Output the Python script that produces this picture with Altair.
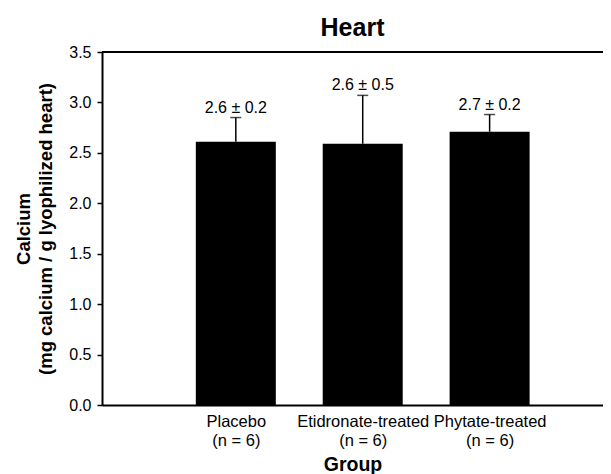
import altair as alt
import pandas as pd

groups = ["Placebo", "Etidronate-treated", "Phytate-treated"]
n_labels = ["(n = 6)", "(n = 6)", "(n = 6)"]
positions = [1, 2, 3]
means = [2.61, 2.59, 2.71]
errors = [0.24, 0.48, 0.17]
value_labels = ["2.6 ± 0.2", "2.6 ± 0.5", "2.7 ± 0.2"]
y_ticks = [0.0, 0.5, 1.0, 1.5, 2.0, 2.5, 3.0, 3.5]

df = pd.DataFrame({
    "group": groups,
    "pos": positions,
    "mean": means,
    "err": errors,
    "label": value_labels,
})
df["top"] = df["mean"] + df["err"]

FONT = "Liberation Sans"

label_expr = " : ".join(
    f"datum.value == {p} ? ['{g}', '{n}']" for p, g, n in zip(positions, groups, n_labels)
) + " : ''"

x_scale = alt.Scale(domain=[-0.015, 3.854], nice=False, zero=False)
y_scale = alt.Scale(domain=[0, 3.5], nice=False)

x_enc = alt.X(
    "pos:Q",
    scale=x_scale,
    axis=alt.Axis(
        title="Group",
        values=positions,
        labelExpr=label_expr,
        ticks=False,
        grid=False,
        domainColor="black",
        domainWidth=2,
        labelFont=FONT,
        labelFontSize=16.5,
        labelLineHeight=19,
        labelColor="black",
        labelPadding=8,
        titleFont=FONT,
        titleFontSize=19.5,
        titleFontWeight="bold",
        titleColor="black",
        titlePadding=7,
    ),
)

y_enc = alt.Y(
    "mean:Q",
    scale=y_scale,
    axis=alt.Axis(
        title=["Calcium", "(mg calcium / g lyophilized heart)"],
        values=y_ticks,
        format=".1f",
        grid=False,
        domainColor="black",
        domainWidth=2,
        tickColor="black",
        tickWidth=1.5,
        tickSize=5,
        labelFont=FONT,
        labelFontSize=16,
        labelColor="black",
        labelPadding=6,
        titleFont=FONT,
        titleFontSize=18.5,
        titleFontWeight="bold",
        titleColor="black",
        titleLineHeight=22,
        titlePadding=13,
    ),
)

base = alt.Chart(df)

bars = base.mark_bar(color="black", size=80).encode(x=x_enc, y=y_enc)

err_rule = base.mark_rule(color="black", strokeWidth=1.5).encode(
    x="pos:Q", y="mean:Q", y2="top:Q"
)

err_cap = base.mark_tick(color="black", orient="horizontal", size=11, thickness=1.5).encode(
    x="pos:Q", y="top:Q"
)

texts = base.mark_text(
    font=FONT, fontSize=16, color="black", baseline="alphabetic", dy=-5
).encode(x="pos:Q", y="top:Q", text="label:N")

top_line = alt.Chart(pd.DataFrame({"yv": [3.5]})).mark_rule(
    color="black", strokeWidth=2
).encode(y="yv:Q")

chart = (
    alt.layer(bars, err_rule, err_cap, texts, top_line)
    .properties(
        width=501,
        height=353,
        title=alt.TitleParams(
            "Heart", font=FONT, fontSize=25, fontWeight="bold", color="black",
            anchor="middle", offset=3
        ),
        autosize=alt.AutoSizeParams(type="none"),
        padding={"left": 94, "top": 44, "right": 0, "bottom": 69},
    )
    .configure_view(stroke=None)
    .configure(background="white")
)

chart.save("out.html", embed_options={"renderer": "svg", "actions": False})
